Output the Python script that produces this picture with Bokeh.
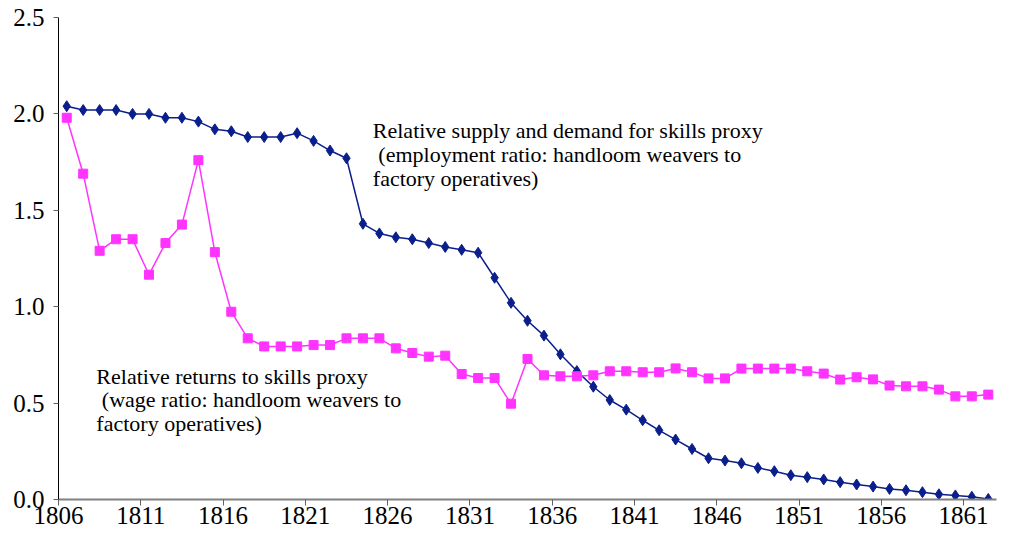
from bokeh.plotting import figure
from bokeh.models import FixedTicker, Range1d, Label, NumeralTickFormatter
from bokeh.embed import file_html
from bokeh.resources import INLINE

years = list(range(1806, 1863))
employment_ratio = [
    2.04, 2.02, 2.02, 2.02, 2.00, 2.00, 1.98, 1.98, 1.96, 1.92,
    1.91, 1.88, 1.88, 1.88, 1.90, 1.86, 1.81, 1.77, 1.43, 1.38,
    1.36, 1.35, 1.33, 1.31, 1.295, 1.28, 1.15, 1.02, 0.927, 0.85,
    0.753, 0.666, 0.585, 0.516, 0.466, 0.411, 0.359, 0.311, 0.262, 0.214,
    0.202, 0.188, 0.164, 0.147, 0.126, 0.116, 0.104, 0.090, 0.078, 0.067,
    0.055, 0.048, 0.038, 0.027, 0.021, 0.014, 0.003,
]
wage_ratio = [
    1.98, 1.69, 1.29, 1.35, 1.35, 1.166, 1.33, 1.426, 1.76, 1.283,
    0.974, 0.836, 0.794, 0.794, 0.794, 0.801, 0.801, 0.836, 0.836, 0.836,
    0.784, 0.760, 0.741, 0.746, 0.651, 0.630, 0.630, 0.497, 0.729, 0.644,
    0.639, 0.639, 0.644, 0.665, 0.665, 0.660, 0.660, 0.680, 0.660, 0.628,
    0.628, 0.679, 0.679, 0.679, 0.679, 0.665, 0.653, 0.622, 0.634, 0.623,
    0.591, 0.587, 0.587, 0.570, 0.535, 0.535, 0.544,
]
x_ticks = [1806, 1811, 1816, 1821, 1826, 1831, 1836, 1841, 1846, 1851, 1856, 1861]
y_ticks = [0.0, 0.5, 1.0, 1.5, 2.0, 2.5]

label_supply = "Relative supply and demand for skills proxy\n\u00a0(employment ratio: handloom weavers to\nfactory operatives)"
label_returns = "Relative returns to skills proxy\n\u00a0(wage ratio: handloom weavers to\nfactory operatives)"

BLUE = "#0B1F8C"
PINK = "#FF33FF"
FONT = "Liberation Serif"

p = figure(width=998, height=534, output_backend="svg", toolbar_location=None,
           x_range=Range1d(1806, 1863), y_range=Range1d(0, 2.5))
p.min_border_left = 58
p.min_border_right = 2
p.min_border_top = 17
p.min_border_bottom = 35
p.outline_line_color = None
p.grid.visible = False
p.background_fill_color = "white"

xc = [y + 0.5 for y in years]

p.line(xc, employment_ratio, line_color=BLUE, line_width=1.5)
p.scatter(xc, employment_ratio, marker="diamond", size=11, fill_color=BLUE, line_color=BLUE)
p.line(xc, wage_ratio, line_color=PINK, line_width=1.5)
p.scatter(xc, wage_ratio, marker="square", size=9, fill_color=PINK, line_color=PINK)

xa = p.xaxis[0]
xa.ticker = FixedTicker(ticks=x_ticks)
xa.axis_line_color = "#808080"
xa.axis_line_width = 2
xa.major_tick_line_color = "#606060"
xa.major_tick_out = 6
xa.major_tick_in = 0
xa.minor_tick_line_color = None
xa.major_label_text_font = FONT
xa.major_label_text_font_size = "25px"
xa.major_label_text_color = "black"
xa.major_label_standoff = 1

ya = p.yaxis[0]
ya.ticker = FixedTicker(ticks=y_ticks)
ya.formatter = NumeralTickFormatter(format="0.0")
ya.axis_line_color = "black"
ya.axis_line_width = 1
ya.major_tick_line_color = "#606060"
ya.major_tick_out = 5
ya.major_tick_in = 0
ya.minor_tick_line_color = None
ya.major_label_text_font = FONT
ya.major_label_text_font_size = "25px"
ya.major_label_text_color = "black"
ya.major_label_standoff = 9

p.add_layout(Label(x=1825.1, y=1.977, text=label_supply, text_font=FONT,
                   text_font_size="22px", text_baseline="top", text_align="left",
                   text_color="black", text_line_height=0.95))
p.add_layout(Label(x=1808.3, y=0.705, text=label_returns, text_font=FONT,
                   text_font_size="22px", text_baseline="top", text_align="left",
                   text_color="black", text_line_height=0.95))

open("out.html", "w").write(file_html(p, INLINE))
